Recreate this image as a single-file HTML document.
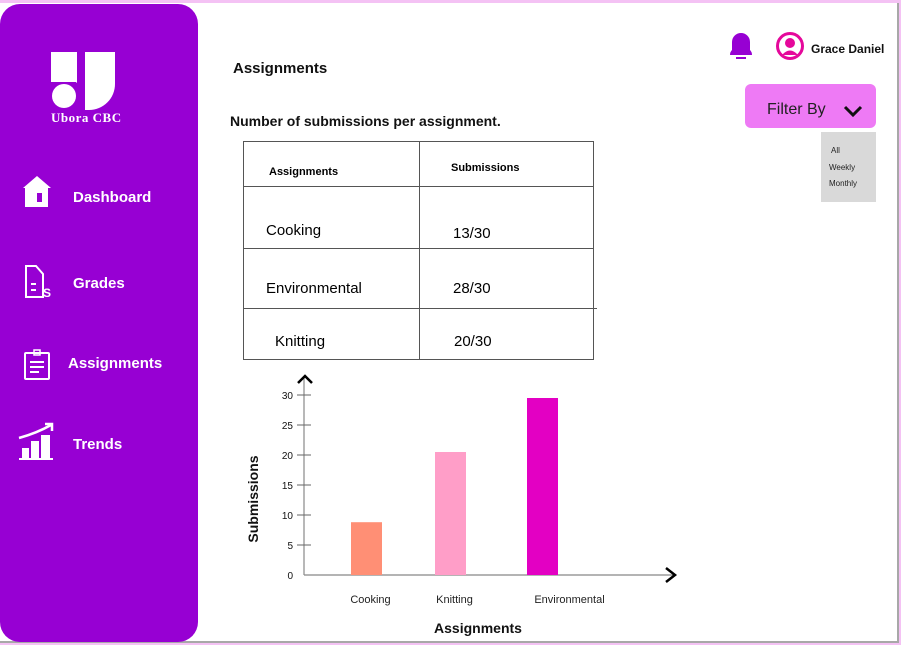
<!DOCTYPE html>
<html><head><meta charset="utf-8"><style>
*{margin:0;padding:0;box-sizing:border-box}
body{width:901px;height:645px;background:#f4c2f4;position:relative;overflow:hidden;font-family:"Liberation Sans",sans-serif}
.frame{position:absolute;left:0;top:3px;width:899px;height:640px;background:#fff;border-right:2px solid #a8a8a8;border-bottom:2px solid #a8a8a8}
.side{position:absolute;left:0;top:4px;width:198px;height:638px;background:#9700d3;border-radius:20px}
.abs{position:absolute}
.nav{position:absolute;color:#fff;font-weight:bold;font-size:15px}
.t{position:absolute;font-size:15px;color:#111}
</style></head><body>
<div class="frame"></div>
<div class="side">
  <svg class="abs" style="left:50px;top:44px" width="66" height="64">
    <path d="M1 4h11v27a16 16 0 0 1 15 4V4h0z" fill="#fff"/>
    <rect x="1" y="4" width="25" height="30" fill="#fff"/>
    <circle cx="14" cy="48" r="12" fill="#fff"/>
    <path d="M35 4h30v32a26 26 0 0 1-26 26h-4z" fill="#fff"/>
  </svg>
  <div class="abs" style="left:51px;top:106px;color:#fff;font-weight:bold;font-size:13px;font-family:'Liberation Serif',serif;letter-spacing:0.5px">Ubora CBC</div>
  <svg class="abs" style="left:22px;top:169px" width="30" height="34"><path d="M1 15L15 3 29 15h-3v19H3V15z" fill="#fff"/><rect x="15" y="20" width="5" height="9" fill="#9700d3"/></svg>
  <div class="nav" style="left:73px;top:185px">Dashboard</div>
  <svg class="abs" style="left:24px;top:260px" width="30" height="36"><path d="M2 2h10l7 8v23H2z" fill="none" stroke="#fff" stroke-width="2"/><path d="M7 20h5M7 26h5" stroke="#fff" stroke-width="2"/><text x="19" y="33" fill="#fff" font-size="12" font-weight="bold">S</text></svg>
  <div class="nav" style="left:73px;top:271px">Grades</div>
  <svg class="abs" style="left:24px;top:345px" width="28" height="32"><rect x="1" y="4" width="24" height="26" fill="none" stroke="#fff" stroke-width="2" rx="1"/><rect x="10" y="1" width="6" height="5" fill="none" stroke="#fff" stroke-width="1.5"/><path d="M6 13h14M6 18h14M6 23h9" stroke="#fff" stroke-width="2"/></svg>
  <div class="nav" style="left:68px;top:351px">Assignments</div>
  <svg class="abs" style="left:17px;top:417px" width="40" height="40"><path d="M2 17Q20 12 34 4" stroke="#fff" stroke-width="2.5" fill="none"/><path d="M28 3h7v7" stroke="#fff" stroke-width="2.5" fill="none"/><rect x="5" y="27" width="7" height="11" fill="#fff"/><rect x="14" y="20" width="8" height="18" fill="#fff"/><rect x="24" y="14" width="9" height="24" fill="#fff"/><rect x="2" y="37" width="34" height="2" fill="#fff"/></svg>
  <div class="nav" style="left:73px;top:432px">Trends</div>
</div>

<div class="t" style="left:233px;top:60px;font-weight:bold">Assignments</div>
<div class="t" style="left:230px;top:113px;font-weight:bold;font-size:14px">Number of submissions per assignment.</div>

<svg class="abs" style="left:727px;top:30px" width="28" height="32"><path d="M3 25Q3 22 5 20V12a9 9 0 0 1 18 0v8q2 2 2 5z" fill="#9700d3"/><path d="M9 28h10" stroke="#9700d3" stroke-width="2"/></svg>
<svg class="abs" style="left:776px;top:32px" width="30" height="30"><circle cx="14" cy="14" r="12.5" fill="none" stroke="#e5089b" stroke-width="3"/><circle cx="14" cy="11" r="5" fill="#e5089b"/><path d="M6 23q8-9 16 0" fill="#e5089b"/></svg>
<div class="t" style="left:811px;top:42px;font-weight:bold;font-size:12px">Grace Daniel</div>

<div class="abs" style="left:745px;top:84px;width:131px;height:44px;background:#ee7af5;border-radius:6px">
  <span class="abs" style="left:22px;top:17px;font-size:16px;color:#222">Filter By</span>
  <svg class="abs" style="left:98px;top:20px" width="22" height="14"><path d="M2 3l8 8 8-8" stroke="#111" stroke-width="3" fill="none"/></svg>
</div>
<div class="abs" style="left:821px;top:132px;width:55px;height:70px;background:#d9d9d9;font-size:8px;color:#222">
  <div class="abs" style="left:10px;top:14px">All</div>
  <div class="abs" style="left:8px;top:31px">Weekly</div>
  <div class="abs" style="left:8px;top:47px">Monthly</div>
</div>

<div class="abs" style="left:243px;top:141px;width:351px;height:219px;border:1px solid #555">
  <div class="abs" style="left:175px;top:0;width:1px;height:218px;background:#555"></div>
  <div class="abs" style="left:0;top:44px;width:350px;height:1px;background:#555"></div>
  <div class="abs" style="left:0;top:106px;width:350px;height:1px;background:#555"></div>
  <div class="abs" style="left:0;top:166px;width:353px;height:1px;background:#555"></div>
  <div class="abs" style="left:25px;top:24px;font-size:11px;font-weight:bold">Assignments</div>
  <div class="abs" style="left:207px;top:20px;font-size:11px;font-weight:bold">Submissions</div>
  <div class="abs" style="left:22px;top:80px;font-size:15px">Cooking</div>
  <div class="abs" style="left:209px;top:83px;font-size:15px">13/30</div>
  <div class="abs" style="left:22px;top:138px;font-size:15px">Environmental</div>
  <div class="abs" style="left:209px;top:138px;font-size:15px">28/30</div>
  <div class="abs" style="left:31px;top:191px;font-size:15px">Knitting</div>
  <div class="abs" style="left:210px;top:191px;font-size:15px">20/30</div>
</div>

<svg id="chart" class="abs" style="left:0;top:0" width="901" height="645"></svg>
<script>
const categories=["Cooking","Knitting","Environmental"];
const values=[8.8,20.5,29.5];
const colors=["#ff8f75","#ff9ec8","#e300c3"];
const tickValues=[0,5,10,15,20,25,30];
const ns="http://www.w3.org/2000/svg";
const svg=document.getElementById("chart");
const x0=304,y0=575,pxPer=6;
const barX=[351,435,527],barW=31;
const labelShift=[4,4,27];
function y(v){return y0-v*pxPer;}
function mk(t,a,p){const e=document.createElementNS(ns,t);for(const k in a)e.setAttribute(k,a[k]);(p||svg).appendChild(e);return e;}
let e;
e=mk("line",{x1:x0,y1:y0,x2:673,y2:y0,stroke:"#888","stroke-width":1.2});


e=mk("line",{x1:x0,y1:y0,x2:x0,y2:376,stroke:"#888","stroke-width":1.2});


mk("path",{d:"M298 383l7-7 7 7",stroke:"#000","stroke-width":2.5,fill:"none"});
mk("path",{d:"M666 568l9 7-9 7",stroke:"#000","stroke-width":2.5,fill:"none"});
tickValues.forEach(v=>{
  if(v>0){const l=mk("line",{x1:x0-7,y1:y(v),x2:x0+7,y2:y(v),stroke:"#666"});
  
  }
  const t=mk("text",{x:293,y:y(v)+4,"text-anchor":"end","font-size":10,fill:"#111"});
  t.textContent=v;
  
  
});
categories.forEach((c,i)=>{
  const r=mk("rect",{x:barX[i],y:y(values[i]),width:barW,height:y0-y(values[i]),fill:colors[i]});
  
  
  const t=mk("text",{x:barX[i]+barW/2+labelShift[i],y:603,"text-anchor":"middle","font-size":11,fill:"#222"});
  t.textContent=c;
  
  
});
e=mk("text",{x:478,y:633,"text-anchor":"middle","font-size":14,"font-weight":"bold",fill:"#111"});
e.textContent="Assignments";


e=mk("text",{x:258,y:499,"text-anchor":"middle","font-size":14,"font-weight":"bold",fill:"#111",transform:"rotate(-90 258 499)"});
e.textContent="Submissions";


</script>
</body></html>
